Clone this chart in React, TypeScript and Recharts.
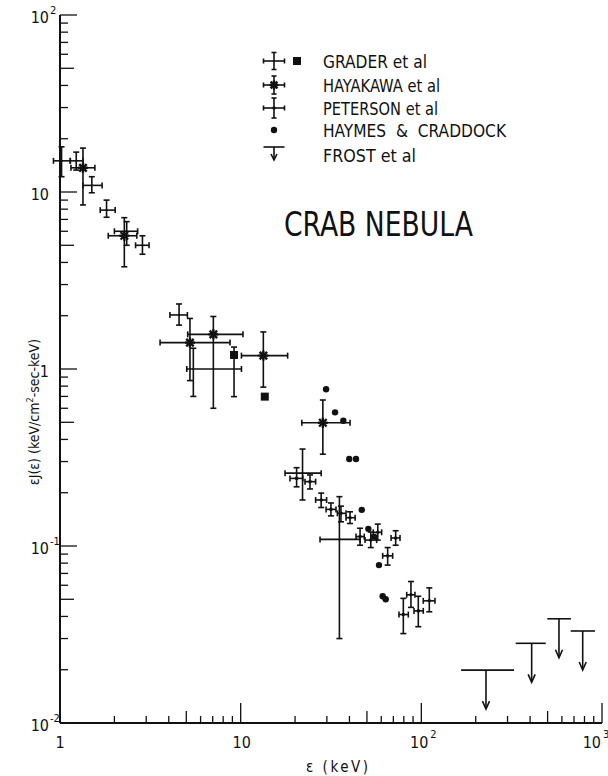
import React from "react";
import { ScatterChart, Scatter, XAxis, YAxis, ErrorBar, Legend } from "recharts";

const FONT = '"DejaVu Sans Condensed", "DejaVu Sans", sans-serif';
const INK = "#111";

// plot frame inside the 608x776 svg
const PLOT = { left: 60, right: 602, top: 15, bottom: 723 };

// axis decades, minor steps in between
const DECADES_X = [1, 10, 100, 1000];
const DECADES_Y = [0.01, 0.1, 1, 10, 100];
const STEPS = [1, 2, 3, 4, 5, 6, 7, 8, 9];

// [energy keV, eLow, eHigh, flux, fLow, fHigh]
const graderCross = [
    [1.02, 0.92, 1.14, 15.0, 12.2, 18.0],
    [1.23, 1.14, 1.34, 15.0, 13.3, 16.8],
    [1.5, 1.34, 1.71, 10.9, 9.9, 12.2],
    [1.81, 1.67, 2.02, 7.9, 7.2, 9.0],
    [2.34, 2.0, 2.69, 6.0, 5.0, 6.8],
    [2.86, 2.62, 3.11, 5.0, 4.45, 5.66],
    [4.56, 4.06, 5.07, 2.02, 1.77, 2.33],
    [5.47, 5.03, 10.1, 1.0, 0.7, 1.31],
    [22.0, 17.6, 27.9, 0.258, 0.182, 0.353],
    [35.2, 27.5, 45.8, 0.109, 0.03, 0.19],
];

// [energy, flux, fLow, fHigh]
const graderSquare = [
    [9.19, 1.2, 0.698, 1.33],
    [13.6, 0.698, null, null],
];

const hayakawa = [
    [1.34, 1.15, 1.56, 13.7, 8.45, 17.7],
    [2.27, 1.85, 2.66, 5.66, 3.78, 7.16],
    [5.24, 3.58, 8.73, 1.41, 0.86, 1.93],
    [7.06, 5.09, 10.3, 1.57, 0.6, 1.98],
    [13.35, 10.1, 18.2, 1.19, 0.79, 1.62],
    [28.5, 21.8, 40.3, 0.497, 0.33, 0.668],
];

const peterson = [
    [20.4, 18.75, 22.1, 0.241, 0.216, 0.277],
    [24.2, 22.7, 26.0, 0.231, 0.21, 0.252],
    [27.9, 26.0, 29.9, 0.182, 0.165, 0.199],
    [31.6, 29.7, 33.7, 0.161, 0.148, 0.175],
    [35.9, 34.3, 38.3, 0.153, 0.137, 0.168],
    [40.3, 38.3, 43.0, 0.1445, 0.134, 0.156],
    [45.8, 43.5, 48.3, 0.113, 0.101, 0.126],
    [52.5, 48.8, 56.6, 0.108, 0.098, 0.12],
    [57.4, 54.2, 60.3, 0.1195, 0.108, 0.133],
    [65.1, 61.1, 69.4, 0.088, 0.078, 0.098],
    [72.1, 68.0, 76.2, 0.111, 0.101, 0.122],
    [79.5, 75.2, 84.7, 0.041, 0.032, 0.0506],
    [87.6, 83.0, 92.2, 0.053, 0.045, 0.063],
    [96.2, 91.1, 102.5, 0.043, 0.035, 0.052],
    [110.7, 102.5, 119, 0.049, 0.0425, 0.058],
];

// [energy, flux]
const haymes = [
    [29.7, 0.768], [33.3, 0.569], [37.0, 0.51], [39.9, 0.31], [43.5, 0.31],
    [46.8, 0.16], [50.9, 0.125], [54.7, 0.113], [58.3, 0.078], [61.1, 0.052], [63.5, 0.05],
];

// upper limits [energy, eLow, eHigh, flux]
const frost = [
    [228, 166, 326, 0.0199],
    [408, 333, 488, 0.0282],
    [578, 498, 673, 0.0388],
    [782, 671, 915, 0.0331],
];

const LEGEND = ["GRADER et al", "HAYAKAWA et al", "PETERSON et al", "HAYMES  &  CRADDOCK", "FROST et al"];
const LEGEND_WIDTHS = [104, 117, 115, 183, 93];

const toPoint = (r: any[]) => ({
    e: r[0],
    f: r[3],
    eErr: [r[0] - r[1], r[2] - r[0]],
    fErr: [r[3] - r[4], r[5] - r[3]],
});

const graderData = graderCross.map(toPoint);
const hayakawaData = hayakawa.map(toPoint);
const petersonData = peterson.map(toPoint);
const squareData = graderSquare.map(([e, f, lo, hi]) => ({
    e, f, fErr: lo == null ? undefined : [f - lo, hi - f],
}));
const haymesData = haymes.map(([e, f]) => ({ e, f }));
const frostData = frost.map(([e, lo, hi, f]) => ({ e, f, eErr: [e - lo, hi - e] }));

const buildTicks = (decades: number[]) =>
    decades.flatMap((d, i) => (i === decades.length - 1 ? [d] : STEPS.map((s) => +(d * s).toPrecision(3))));
const xTicks = buildTicks(DECADES_X);
const yTicks = buildTicks(DECADES_Y);

const mantissa = (v: number) => Math.round(v / Math.pow(10, Math.floor(Math.log10(v) + 1e-9)));
const tickLen = (v: number, major: number, mid: number, minor: number) => {
    const m = mantissa(v);
    return m === 1 ? major : m === 5 ? mid : minor;
};
const expOf = (v: number) => Math.round(Math.log10(v));

function BottomTick({ x, payload }: any) {
    const v = payload.value;
    const len = tickLen(v, 20, 12, 7);
    const exp = expOf(v);
    const major = mantissa(v) === 1;
    // the last label sits at the right edge, pull it in so it stays whole
    const shift = exp >= 3 ? -8 : 0;
    return (
        <g>
            <line x1={x} x2={x} y1={PLOT.bottom} y2={PLOT.bottom - len} stroke={INK} strokeWidth={1.3} />
            {major && exp < 2 && (
                <text x={x + (exp === 1 ? 1 : 0)} y={748} textAnchor="middle" fontFamily={FONT} fontSize={16} fill={INK}>
                    {exp === 0 ? "1" : "10"}
                </text>
            )}
            {major && exp >= 2 && (
                <g fontFamily={FONT} fill={INK}>
                    <text x={x + 7 + shift} y={748} textAnchor="end" fontSize={16}>10</text>
                    <text x={x + 9 + shift} y={738} fontSize={11}>{exp}</text>
                </g>
            )}
        </g>
    );
}

function TopTick({ x, payload }: any) {
    const len = tickLen(payload.value, 18, 12, 7);
    return <line x1={x} x2={x} y1={PLOT.top} y2={PLOT.top + len} stroke={INK} strokeWidth={1.3} />;
}

function LeftTick({ y, payload }: any) {
    const v = payload.value;
    const len = tickLen(v, 17, 14, 8);
    const exp = expOf(v);
    const major = mantissa(v) === 1;
    const base = exp === 0 ? "1" : "10";
    const sup = exp === 0 || exp === 1 ? null : String(exp);
    return (
        <g>
            <line x1={PLOT.left} x2={PLOT.left + len} y1={y} y2={y} stroke={INK} strokeWidth={1.3} />
            {major && (
                <g fontFamily={FONT} fill={INK}>
                    <text x={49} y={y + 8} textAnchor="end" fontSize={16}>{base}</text>
                    {sup && <text x={50} y={y - 1} fontSize={11}>{sup}</text>}
                </g>
            )}
        </g>
    );
}

function RightTick({ y, payload }: any) {
    const len = tickLen(payload.value, 16, 10, 7);
    return <line x1={PLOT.right} x2={PLOT.right - len} y1={y} y2={y} stroke={INK} strokeWidth={1.3} />;
}

// markers
const Asterisk = ({ cx, cy, r = 5 }: any) => (
    <g stroke={INK} strokeWidth={2.4}>
        <line x1={cx - r} x2={cx + r} y1={cy} y2={cy} />
        <line x1={cx} x2={cx} y1={cy - r} y2={cy + r} />
        <line x1={cx - r * 0.75} x2={cx + r * 0.75} y1={cy - r * 0.75} y2={cy + r * 0.75} />
        <line x1={cx - r * 0.75} x2={cx + r * 0.75} y1={cy + r * 0.75} y2={cy - r * 0.75} />
    </g>
);
const Dot = ({ cx, cy, r }: any) => <circle cx={cx} cy={cy} r={r} fill={INK} />;
const Square = ({ cx, cy }: any) => <rect x={cx - 4} y={cy - 4} width={8} height={8} fill={INK} />;
const DownArrow = ({ cx, cy }: any) => (
    <g stroke={INK} strokeWidth={1.6} fill="none">
        <line x1={cx} x2={cx} y1={cy} y2={cy + 38} />
        <polyline points={`${cx - 3.5},${cy + 31} ${cx},${cy + 39} ${cx + 3.5},${cy + 31}`} />
    </g>
);

function LegendCross({ cx, cy, hw = 10.5, hh = 8.5 }: any) {
    return (
        <g stroke={INK} strokeWidth={1.6}>
            <line x1={cx - hw} x2={cx + hw} y1={cy} y2={cy} />
            <line x1={cx} x2={cx} y1={cy - hh} y2={cy + hh} />
            <line x1={cx - hw} x2={cx - hw} y1={cy - 2.5} y2={cy + 2.5} />
            <line x1={cx + hw} x2={cx + hw} y1={cy - 2.5} y2={cy + 2.5} />
            <line x1={cx - 2.5} x2={cx + 2.5} y1={cy - hh} y2={cy - hh} />
            <line x1={cx - 2.5} x2={cx + 2.5} y1={cy + hh} y2={cy + hh} />
        </g>
    );
}

function LegendBox() {
    const mx = 24;
    const rows = [21, 45, 68, 90, 112];
    return (
        <svg width={280} height={130} style={{ display: "block" }}>
            <LegendCross cx={mx} cy={rows[0]} />
            <Square cx={47} cy={rows[0]} />
            <LegendCross cx={mx} cy={rows[1]} hh={9} />
            <Asterisk cx={mx} cy={rows[1]} r={4.5} />
            <LegendCross cx={mx} cy={rows[2]} hh={10} />
            <Dot cx={mx} cy={rows[2]} r={1.8} />
            <Dot cx={mx} cy={rows[3]} r={3.2} />
            <line x1={mx - 10.5} x2={mx + 10.5} y1={107} y2={107} stroke={INK} strokeWidth={1.6} />
            <g stroke={INK} strokeWidth={1.6} fill="none">
                <line x1={mx} x2={mx} y1={107} y2={120} />
                <polyline points={`${mx - 3},${114} ${mx},${120} ${mx + 3},${114}`} />
            </g>
            {LEGEND.map((t, i) => (
                <text
                    key={t}
                    x={73}
                    y={rows[i] + 7 + (i === 4 ? 3 : 0)}
                    fontFamily={FONT}
                    fontSize={18}
                    fill={INK}
                    textLength={LEGEND_WIDTHS[i]}
                    lengthAdjust="spacingAndGlyphs"
                    style={{ whiteSpace: "pre" }}
                >
                    {t}
                </text>
            ))}
        </svg>
    );
}

// ErrorBar width is the half length of each cap
const barProps = { stroke: INK, strokeWidth: 1.6, width: 3 };

export default function App() {
    return (
        <div style={{ position: "absolute", left: 0, top: 0, width: 608, height: 776, background: "#fff" }}>
            <ScatterChart width={608} height={776} margin={{ top: PLOT.top, right: 6, bottom: 0, left: 0 }}>
                <XAxis
                    dataKey="e"
                    type="number"
                    scale="log"
                    domain={[1, 1000]}
                    allowDataOverflow
                    ticks={xTicks}
                    interval={0}
                    height={53}
                    tickLine={false}
                    tick={<BottomTick />}
                    axisLine={{ stroke: INK, strokeWidth: 2 }}
                />
                <XAxis
                    xAxisId="top"
                    orientation="top"
                    type="number"
                    scale="log"
                    domain={[1, 1000]}
                    allowDataOverflow
                    ticks={xTicks}
                    interval={0}
                    height={0}
                    tickLine={false}
                    tick={<TopTick />}
                    axisLine={{ stroke: INK, strokeWidth: 2 }}
                />
                <YAxis
                    dataKey="f"
                    type="number"
                    scale="log"
                    domain={[0.01, 100]}
                    allowDataOverflow
                    ticks={yTicks}
                    interval={0}
                    width={60}
                    tickLine={false}
                    tick={<LeftTick />}
                    axisLine={{ stroke: INK, strokeWidth: 2 }}
                />
                <YAxis
                    yAxisId="right"
                    orientation="right"
                    type="number"
                    scale="log"
                    domain={[0.01, 100]}
                    allowDataOverflow
                    ticks={yTicks}
                    interval={0}
                    width={0}
                    tickLine={false}
                    tick={<RightTick />}
                    axisLine={{ stroke: INK, strokeWidth: 2 }}
                />

                <Scatter name="GRADER et al" data={graderData} isAnimationActive={false} shape={(p: any) => <Dot cx={p.cx} cy={p.cy} r={1} />}>
                    <ErrorBar dataKey="eErr" direction="x" {...barProps} />
                    <ErrorBar dataKey="fErr" direction="y" {...barProps} />
                </Scatter>
                <Scatter name="GRADER squares" data={squareData} isAnimationActive={false} shape={(p: any) => <Square cx={p.cx} cy={p.cy} />}>
                    <ErrorBar dataKey="fErr" direction="y" {...barProps} />
                </Scatter>
                <Scatter name="HAYAKAWA et al" data={hayakawaData} isAnimationActive={false} shape={(p: any) => <Asterisk cx={p.cx} cy={p.cy} />}>
                    <ErrorBar dataKey="eErr" direction="x" {...barProps} />
                    <ErrorBar dataKey="fErr" direction="y" {...barProps} />
                </Scatter>
                <Scatter name="PETERSON et al" data={petersonData} isAnimationActive={false} shape={(p: any) => <Dot cx={p.cx} cy={p.cy} r={1.8} />}>
                    <ErrorBar dataKey="eErr" direction="x" {...barProps} />
                    <ErrorBar dataKey="fErr" direction="y" {...barProps} />
                </Scatter>
                <Scatter name="HAYMES & CRADDOCK" data={haymesData} isAnimationActive={false} shape={(p: any) => <Dot cx={p.cx} cy={p.cy} r={3.2} />} />
                <Scatter name="FROST et al" data={frostData} isAnimationActive={false} shape={(p: any) => <DownArrow cx={p.cx} cy={p.cy} />}>
                    <ErrorBar dataKey="eErr" direction="x" stroke={INK} strokeWidth={1.6} width={0} />
                </Scatter>

                <Legend
                    layout="vertical"
                    align="center"
                    verticalAlign="middle"
                    wrapperStyle={{ left: 250, top: 40, width: 280, height: 130 }}
                    content={() => <LegendBox />}
                />

                <text x={284} y={236} fontFamily={FONT} fontSize={33} fill={INK} textLength={189} lengthAdjust="spacingAndGlyphs">
                    CRAB NEBULA
                </text>
                <text x={337} y={772} textAnchor="middle" fontFamily={FONT} fontSize={15} fill={INK} textLength={62} lengthAdjust="spacing">
                    ε (keV)
                </text>
                <text
                    x={39}
                    y={412}
                    transform="rotate(-90, 39, 412)"
                    textAnchor="middle"
                    fontFamily={FONT}
                    fontSize={14}
                    fill={INK}
                >
                    εJ(ε) (keV/cm<tspan dy={-6} fontSize={9}>2</tspan><tspan dy={6}>-sec-keV)</tspan>
                </text>
            </ScatterChart>
        </div>
    );
}
